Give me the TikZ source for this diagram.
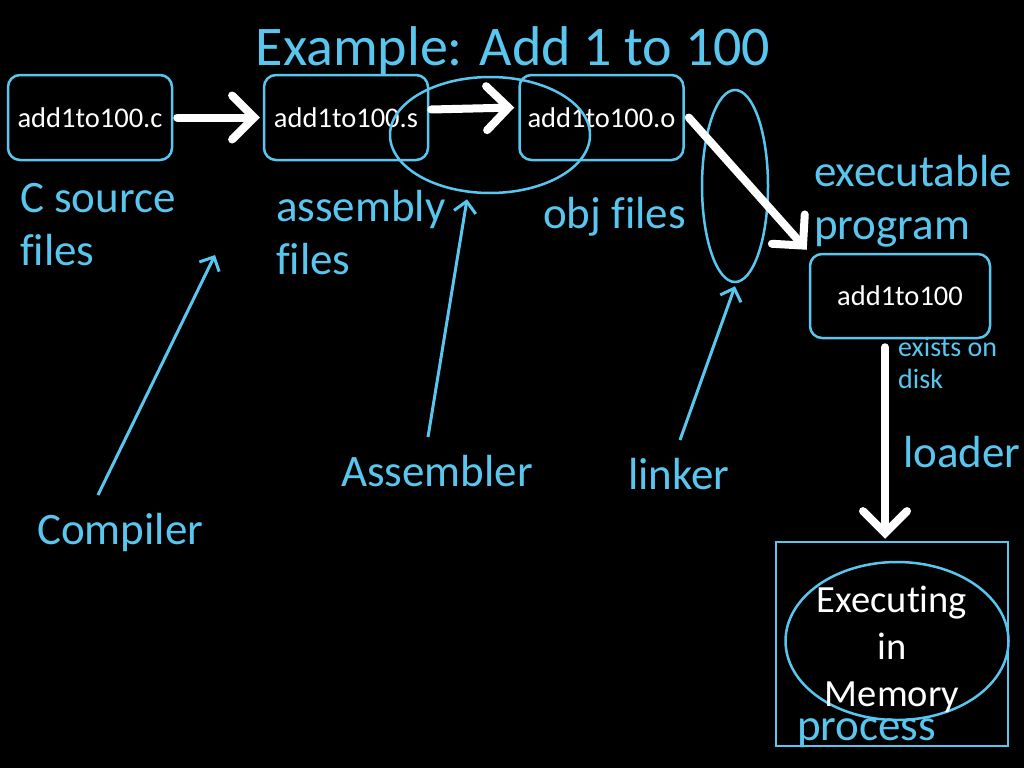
\documentclass[tikz,border=0pt]{standalone}
\usepackage{fontspec}
\setmainfont[Ligatures={NoCommon}]{Carlito}
\usetikzlibrary{arrows.meta,shapes.geometric}
\definecolor{lblue}{RGB}{88,198,238}
\begin{document}
\begin{tikzpicture}[x=1pt,y=-1pt,
 box/.style={draw=lblue,line width=2.5pt,rounded corners=12pt,minimum width=164pt,minimum height=85pt,inner sep=0pt,text=white,font=\fontsize{28.5}{33}\selectfont},
 lbl/.style={text=lblue,font=\fontsize{45}{54}\selectfont,anchor=base west,inner sep=0pt},
 small/.style={text=lblue,font=\fontsize{28}{32}\selectfont,anchor=base west,inner sep=0pt},
 wtxt/.style={text=white,font=\fontsize{38.5}{46}\selectfont,anchor=base,inner sep=0pt},
 warrow/.style={draw=white,line width=8pt,line cap=round,-{Straight Barb[length=22pt,width=44pt,line cap=round]}},
 barrow/.style={draw=lblue,line width=3pt,-{Straight Barb[length=11pt,width=22pt]}},
 ring/.style={draw=lblue,line width=2.5pt,ellipse,inner sep=0pt}]
\useasboundingbox (0,0) rectangle (1024,768);
\fill[black] (0,0) rectangle (1024,768);

% title
\node[text=lblue,font=\fontsize{56}{66}\selectfont,anchor=base,inner sep=0pt] (title) at (513,65) {Example: Add 1 to 100};

% boxes
\node[box] (b1) at (90,117.5) {add1to100.c};
\node[box] (b2) at (346,117.5) {add1to100.s};
\node[box] (b3) at (601.5,117.5) {add1to100.o};
\node[box,minimum width=180pt,minimum height=84pt] (b4) at (900,296) {add1to100};
\node[draw=lblue,line width=2.5pt,minimum width=232pt,minimum height=204pt,inner sep=0pt] (proc) at (892,644) {};

% ellipses
\node[ring,minimum width=200pt,minimum height=116pt] (e1) at (490,135) {};
\node[ring,minimum width=66pt,minimum height=192pt] (e2) at (735,186) {};
\node[ring,minimum width=223pt,minimum height=158pt] (e3) at (897,641) {};

% labels
\node[lbl] (cs1) at (20,212) {C source};
\node[lbl] (cs2) at (20,265) {files};
\node[lbl] (as1) at (276,221) {assembly};
\node[lbl] (as2) at (276,274) {files};
\node[lbl] (obj) at (543,228) {obj files};
\node[lbl] (ex1) at (814,186) {executable};
\node[lbl] (ex2) at (814,239) {program};
\node[small] (dk1) at (898,356) {exists on};
\node[small] (dk2) at (898,388) {disk};
\node[lbl] (ld) at (903,467) {loader};
\node[lbl] (asm) at (341,486) {Assembler};
\node[lbl] (lnk) at (628,489) {linker};
\node[lbl] (cmp) at (37,544) {Compiler};
\node[wtxt] (m1) at (892,612) {Executing};
\node[wtxt] (m2) at (892,659) {in};
\node[wtxt] (m3) at (892,706) {Memory};
\node[lbl] (pr) at (797,740) {process};

% white arrows
\draw[warrow] ([xshift=4pt]b1.east) -- ([xshift=-3pt]b2.west);
\draw[warrow] ([yshift=8pt,xshift=2pt]b2.east) -- ([yshift=10pt,xshift=-4pt]b3.west);
\draw[warrow] ([xshift=4pt]b3.east) -- ([xshift=-2pt,yshift=3pt]b4.north west);
\draw[warrow] ([xshift=-15pt,yshift=-8pt]b4.south) -- ([xshift=-7pt,yshift=2pt]proc.north);

% blue arrows
\coordinate (cmpS) at (98,495);
\coordinate (cmpE) at (215,255);
\draw[barrow] (cmpS) -- (cmpE);
\coordinate (asmS) at (428,437);
\draw[barrow] (asmS) -- ([xshift=-23pt,yshift=-5pt]e1.south);
\coordinate (lnkS) at (680,440);
\draw[barrow] (lnkS) -- ([yshift=-3pt]e2.south);
\end{tikzpicture}
\end{document}
